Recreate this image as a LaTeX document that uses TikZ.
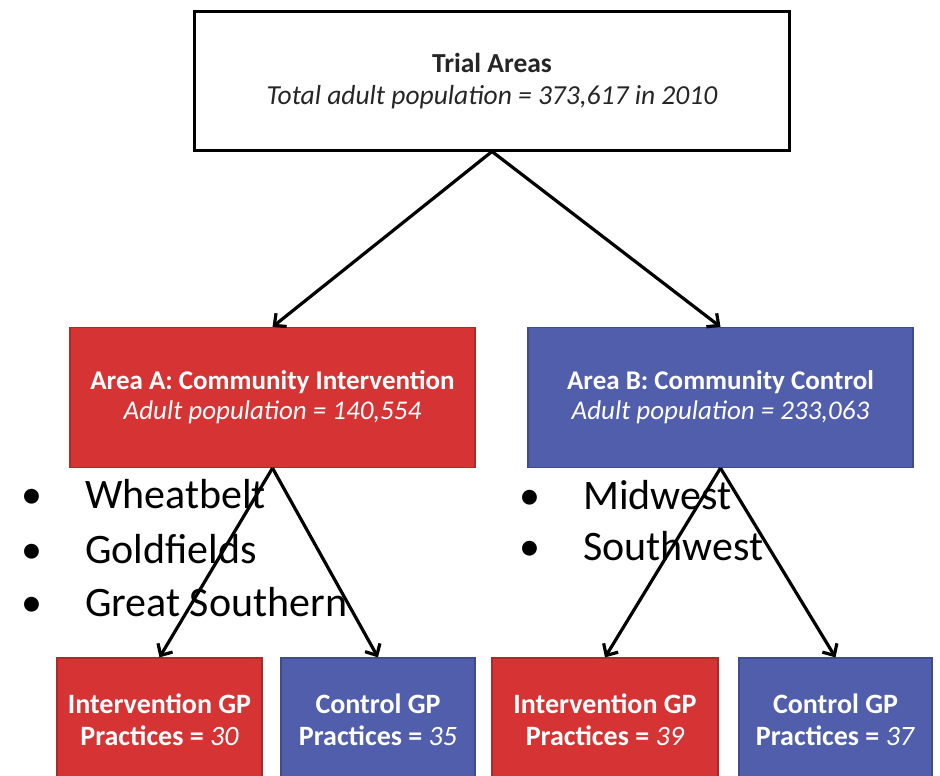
\documentclass[tikz,border=0pt]{standalone}
\usepackage{fontspec}
\setmainfont{Carlito}
\usepackage{xcolor}
\usetikzlibrary{arrows.meta, positioning}

\definecolor{areared}{RGB}{214,52,52}
\definecolor{areablue}{RGB}{80,94,171}
\newcommand{\bul}{\llap{•\hspace{43pt}}}

\begin{document}
\begin{tikzpicture}[x=1pt, y=-1pt,
    topbox/.style={draw=black, line width=3pt, fill=white, align=center,
        minimum width=595pt, minimum height=138pt, text=black!85,
        font=\fontsize{27.5}{32}\selectfont},
    areabox/.style={draw=#1!80!black, line width=1.2pt, fill=#1, text=white,
        align=center, minimum height=140pt, font=\fontsize{27}{30}\selectfont},
    gpbox/.style={areabox=#1, minimum height=124pt, font=\fontsize{28}{32}\selectfont},
    item/.style={anchor=base west, inner sep=0pt, font=\fontsize{42}{48}\selectfont},
    arr/.style={-{Straight Barb[length=9pt, width=17pt]}, line width=3.2pt}]

            \useasboundingbox (0,0) rectangle (940,776);
            \clip (0,0) rectangle (940,776);

            \node[topbox] (trial) at (492,81)
                {\textbf{Trial Areas}\\\textit{Total adult population = 373,617 in 2010}};

            \node[areabox=areared, minimum width=405pt] (areaA) at (272.5,397.5)
                {\textbf{Area A: Community Intervention}\\\textit{Adult population = 140,554}};
            \node[areabox=areablue, minimum width=385pt] (areaB) at (720.5,397.5)
                {\textbf{Area B: Community Control}\\\textit{Adult population = 233,063}};

            \node[gpbox=areared, minimum width=205pt] (gpA1) at (159.5,720)
                {\textbf{Intervention GP}\\\textbf{Practices =} \textit{30}};
            \node[gpbox=areablue, minimum width=194pt] (gpA2) at (378,720)
                {\textbf{Control GP}\\\textbf{Practices =} \textit{35}};
            \node[gpbox=areared, minimum width=226pt] (gpB1) at (605,720)
                {\textbf{Intervention GP}\\\textbf{Practices =} \textit{39}};
            \node[gpbox=areablue, minimum width=193pt] (gpB2) at (835.5,720)
                {\textbf{Control GP}\\\textbf{Practices =} \textit{37}};

            \node[item] (wheat) at (85,508) {\bul Wheatbelt};
            \node[item] (gold) at (85,563) {\bul Goldfields};
            \node[item] (great) at (85,616) {\bul Great Southern};
            \node[item] (midwest) at (583,509) {\bul Midwest};
            \node[item] (southwest) at (583,560) {\bul Southwest};

            \draw[arr] (trial.south) -- (areaA.north);
            \draw[arr] (trial.south) -- (areaB.north);
            \draw[arr] (areaA.south) -- (gpA1.north);
            \draw[arr] (areaA.south) -- (gpA2.north);
            \draw[arr] (areaB.south) -- (gpB1.north);
            \draw[arr] (areaB.south) -- (gpB2.north);

        \end{tikzpicture}
\end{document}
